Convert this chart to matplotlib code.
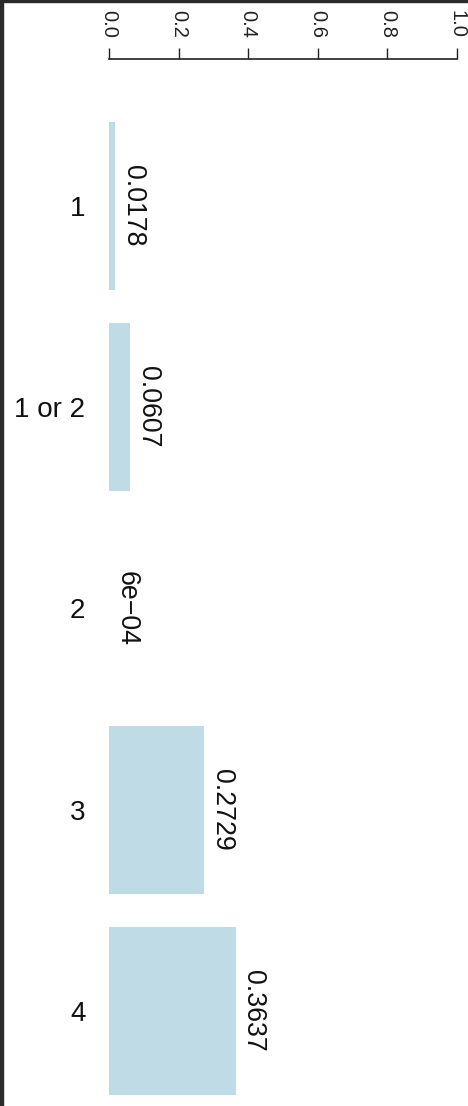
import matplotlib
matplotlib.use("Agg")
import matplotlib.pyplot as plt
from matplotlib.patches import Rectangle

plt.rcParams['font.family'] = ['Liberation Sans', 'DejaVu Sans']

# Data
categories = ["1", "1 or 2", "2", "3", "4"]
values = [0.0178, 0.0607, 0.0006, 0.2729, 0.3637]
value_labels = ["0.0178", "0.0607", "6e\u221204", "0.2729", "0.3637"]
ticks = [0.0, 0.2, 0.4, 0.6, 0.8, 1.0]
tick_labels = ["0.0", "0.2", "0.4", "0.6", "0.8", "1.0"]

W, H = 468, 1106
fig = plt.figure(figsize=(W / 100, H / 100), dpi=100)

# axes box in pixel terms: x 109..457, y 59..1106
ax = fig.add_axes([109 / W, 0, (457 - 109) / W, 1 - 59 / H])

pos = list(range(len(categories)))
ax.barh(pos, values, height=0.835, color="#bfdce6", edgecolor="none")

ax.set_xlim(0, 1)
# category centres at pixels 206 + 201.25*i
ax.set_ylim((H - 206) / 201.25, (59 - 206) / 201.25)

# value labels, rotated, just past the end of each bar
for p, v, lab in zip(pos, values, value_labels):
    ax.annotate(lab, (v, p), xytext=(3.5, 0), textcoords="offset points",
                rotation=270, ha="left", va="center", fontsize=19.3,
                color="#111111")

# x axis on top
ax.xaxis.set_ticks_position("top")
ax.set_xticks(ticks)
ax.set_xticklabels(tick_labels, rotation=270, fontsize=14.5, color="#222222")
ax.tick_params(axis="x", length=8, width=1, pad=7, color="#222222")

ax.set_yticks(pos)
ax.set_yticklabels(categories, fontsize=20, color="#111111")
ax.tick_params(axis="y", length=0, pad=17)

for s in ["left", "right", "bottom"]:
    ax.spines[s].set_visible(False)
ax.spines["top"].set_bounds(0, 1)
ax.spines["top"].set_color("#222222")
ax.spines["top"].set_linewidth(1.2)

# dark frame strips on left and top edge of the picture
fig.patches.append(Rectangle((0, 0), 3 / W, 1, transform=fig.transFigure,
                             color="#2b2b2b", zorder=10))
fig.patches.append(Rectangle((0, 1 - 2 / H), 1, 2 / H, transform=fig.transFigure,
                             color="#2b2b2b", zorder=10))

fig.savefig("out.png", dpi=100)
